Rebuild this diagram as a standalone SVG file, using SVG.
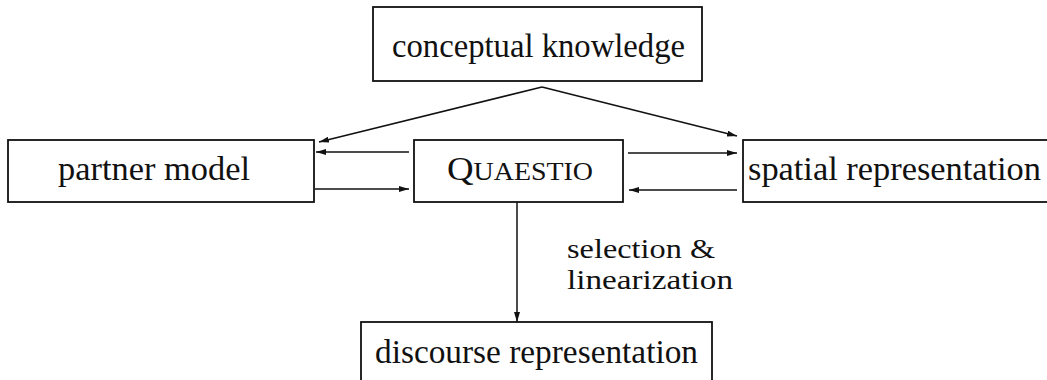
<svg xmlns="http://www.w3.org/2000/svg" width="1047" height="380" viewBox="0 0 1047 380">
  <style>
    .box { fill: #fff; stroke: #111; stroke-width: 1.8; }
    .lbl { font-family: "Liberation Serif", "Times New Roman", serif; font-size: 33px; fill: #111; }
    .note { font-size: 28px; }
    .edge { fill: none; stroke: #111; stroke-width: 1.5; marker-end: url(#tip); }
  </style>
  <defs>
    <marker id="tip" viewBox="0 0 10 6" refX="10" refY="3" markerWidth="10" markerHeight="6" markerUnits="userSpaceOnUse" orient="auto">
      <path d="M0,0 L10,3 L0,6 z" fill="#111"/>
    </marker>
  </defs>
  <rect width="1047" height="380" fill="#fff"/>

  <g id="conceptual-knowledge">
    <rect class="box" x="373" y="7" width="329" height="74"/>
    <text class="lbl" x="392" y="57" textLength="293" lengthAdjust="spacingAndGlyphs">conceptual knowledge</text>
  </g>

  <g id="partner-model">
    <rect class="box" x="8" y="140" width="306" height="62"/>
    <text class="lbl" x="58" y="180" textLength="192" lengthAdjust="spacingAndGlyphs">partner model</text>
  </g>

  <g id="quaestio">
    <rect class="box" x="414" y="140" width="209" height="62"/>
    <text class="lbl" x="447" y="180" textLength="146" lengthAdjust="spacingAndGlyphs">Q<tspan font-size="25">UAESTIO</tspan></text>
  </g>

  <g id="spatial-representation">
    <rect class="box" x="743" y="140" width="310" height="62"/>
    <text class="lbl" x="748" y="180" textLength="293" lengthAdjust="spacingAndGlyphs">spatial representation</text>
  </g>

  <g id="discourse-representation">
    <rect class="box" x="361" y="322" width="351" height="70"/>
    <text class="lbl" x="375" y="363" textLength="323" lengthAdjust="spacingAndGlyphs">discourse representation</text>
  </g>

  <g id="connectors">
    <path class="edge" d="M542,87 L319,142"/>
    <path class="edge" d="M542,87 L737,136"/>
    <path class="edge" d="M409,152 L316,152"/>
    <path class="edge" d="M315,189 L409,189"/>
    <path class="edge" d="M628,153 L737,153"/>
    <path class="edge" d="M737,190 L629,190"/>
    <path class="edge" d="M517,202 L517,322"/>
    <text class="lbl note" x="567" y="258" textLength="148" lengthAdjust="spacingAndGlyphs">selection &amp;</text>
    <text class="lbl note" x="567" y="289" textLength="166" lengthAdjust="spacingAndGlyphs">linearization</text>
  </g>
</svg>
